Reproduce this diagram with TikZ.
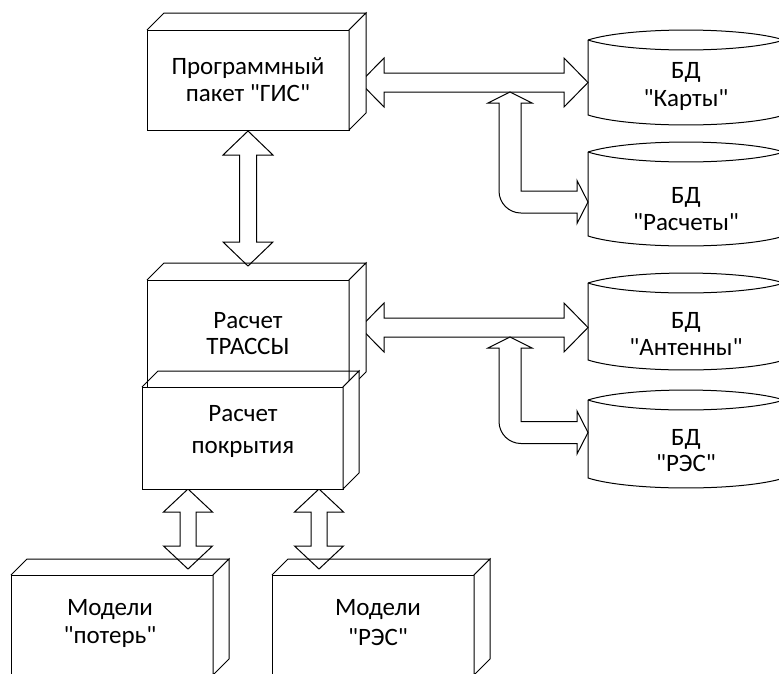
\documentclass[tikz,border=0pt]{standalone}
\usepackage{fontspec}
\setmainfont{Carlito}[Ligatures=TeXOff]
\usetikzlibrary{calc}
\newcommand\cubefaces[2]{%
  \draw (#1.north west) -- ++(#2,-#2) -- ($(#1.north east)+(#2,-#2)$) -- (#1.north east);
  \draw[fill=white] (#1.north east) -- ++(#2,-#2) -- ($(#1.south east)+(#2,-#2)$) -- (#1.south east) -- cycle;}
\newcommand\cylbody[2]{%
  \draw (588,#1) .. controls (630,#1-13.3) and (742,#1-13.3) .. (784,#1);
  \draw (588,#1) .. controls (630,#1+13.3) and (742,#1+13.3) .. (784,#1);
  \draw (588,#1) -- (588,#2) .. controls (630,#2+13.3) and (742,#2+13.3) .. (784,#2) -- (784,#1);}
\newcommand\hdarrow[3]{%
  \draw[blk] (#1,#3) -- (#1+24,#3-24.5) -- (#1+24,#3-9.5) -- (#2-24,#3-9.5) -- (#2-24,#3-24.5) -- (#2,#3)
    -- (#2-24,#3+24.5) -- (#2-24,#3+9.5) -- (#1+24,#3+9.5) -- (#1+24,#3+24.5) -- cycle;}
\newcommand\vdarrow[6]{%
  \draw[blk] (#1,#2) -- (#1+#5,#2+#4) -- (#1+#6,#2+#4) -- (#1+#6,#3-#4) -- (#1+#5,#3-#4) -- (#1,#3)
    -- (#1-#5,#3-#4) -- (#1-#6,#3-#4) -- (#1-#6,#2+#4) -- (#1-#5,#2+#4) -- cycle;}
\newcommand\bentarrow[2]{%
  \draw[blk] (510,#1) -- (532,#1+11) -- (521,#1+11) -- (521,#2-11) -- (577,#2-11) -- (577,#2-21.5) -- (588,#2)
    -- (577,#2+21.5) -- (577,#2+11) -- (521,#2+11) arc[start angle=90, end angle=180, radius=22]
    -- (499,#1+11) -- (488,#1+11) -- cycle;}
\begin{document}
\begin{tikzpicture}[x=1pt,y=-1pt,line width=1pt,
  boxface/.style={draw, fill=white, inner sep=0pt, outer sep=0pt},
  blk/.style={draw, fill=white, line join=miter},
  lbl/.style={anchor=base, font=\fontsize{25}{28}\selectfont, inner sep=0pt}]
\useasboundingbox (0,0) rectangle (779,673);
\clip (0,0) rectangle (779,673);
% block arrows
\hdarrow{360}{588}{82.5}
\hdarrow{360}{588}{327.5}
\bentarrow{92}{202}
\bentarrow{337}{432.5}
\vdarrow{248}{131}{266}{24}{25}{8.5}
\vdarrow{188}{489}{569}{23}{24.5}{8}
\vdarrow{319}{489}{569}{23}{24.5}{8}
% databases
\cylbody{40}{115}
\cylbody{152}{236}
\cylbody{283}{360}
\cylbody{400}{478}
% boxes
\node[boxface, minimum width=202pt, minimum height=100pt] (gis) at (248,80) {};
\cubefaces{gis}{17}
\node[boxface, minimum width=202pt, minimum height=109pt] (tr) at (248,334.5) {};
\cubefaces{tr}{17}
\node[boxface, minimum width=201pt, minimum height=102pt] (pk) at (242.5,438) {};
\cubefaces{pk}{16}
\node[boxface, minimum width=202pt, minimum height=100pt] (m1) at (112,625) {};
\cubefaces{m1}{16}
\node[boxface, minimum width=202pt, minimum height=100pt] (m2) at (373,625) {};
\cubefaces{m2}{16}
% labels
\node[lbl] (t1) at (248,74) {Программный};
\node[lbl] (t2) at (248,101) {пакет "ГИС"};
\node[lbl] (t3) at (248,328) {Расчет};
\node[lbl] (t4) at (248,354) {ТРАССЫ};
\node[lbl] (t5) at (243,421) {Расчет};
\node[lbl] (t6) at (243,453) {покрытия};
\node[lbl] (t7) at (110,615) {Модели};
\node[lbl] (t8) at (110,643) {"потерь"};
\node[lbl] (t9) at (378,615) {Модели};
\node[lbl] (t10) at (378,645) {"РЭС"};
\node[lbl] (c1a) at (686,78) {БД};
\node[lbl] (c1b) at (686,106) {"Карты"};
\node[lbl] (c2a) at (686,203) {БД};
\node[lbl] (c2b) at (686,230) {"Расчеты"};
\node[lbl] (c3a) at (686,328) {БД};
\node[lbl] (c3b) at (686,355) {"Антенны"};
\node[lbl] (c4a) at (686,445) {БД};
\node[lbl] (c4b) at (686,471) {"РЭС"};
\end{tikzpicture}
\end{document}
